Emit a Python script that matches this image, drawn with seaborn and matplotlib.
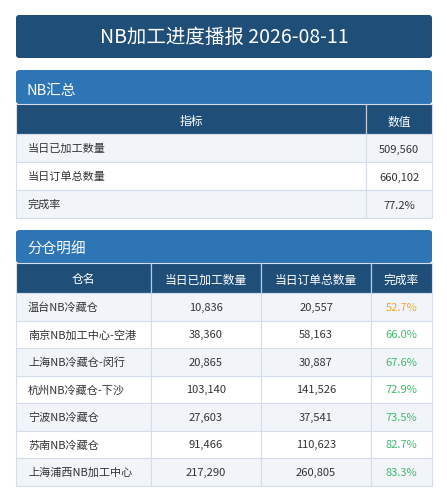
import matplotlib
matplotlib.use("Agg")
import matplotlib.pyplot as plt
from matplotlib.patches import Rectangle, FancyBboxPatch
import seaborn as sns

sns.set_style("white")
plt.rcParams['font.family'] = ['Noto Sans CJK SC', 'DejaVu Sans']

title = "NB加工进度播报 2026-08-11"

summary_labels = ["当日已加工数量", "当日订单总数量", "完成率"]
summary_values = ["509,560", "660,102", "77.2%"]

wh_names = ["温台NB冷藏仓", "南京NB加工中心-空港", "上海NB冷藏仓-闵行", "杭州NB冷藏仓-下沙",
            "宁波NB冷藏仓", "苏南NB冷藏仓", "上海浦西NB加工中心"]
wh_done = [10836, 38360, 20865, 103140, 27603, 91466, 217290]
wh_total = [20557, 58163, 30887, 141526, 37541, 110623, 260805]
wh_rate = [52.7, 66.0, 67.6, 72.9, 73.5, 82.7, 83.3]

DARK = "#1f4e79"
MID = "#2e75b6"
ALT = "#f1f5fa"
LINE = "#d5dee8"
TXT = "#333333"

fig = plt.figure(figsize=(4.47, 5.0), dpi=100)
ax = fig.add_axes([0, 0, 1, 1])
ax.set_xlim(0, 447)
ax.set_ylim(500, 0)
ax.axis("off")

L, R = 16, 432


def rbox(x0, y0, x1, y1, color):
    ax.add_patch(FancyBboxPatch((x0, y0), x1 - x0, y1 - y0,
                                boxstyle="round,pad=0,rounding_size=3",
                                fc=color, ec="none"))


def cell(x0, y0, x1, y1, color):
    ax.add_patch(Rectangle((x0, y0), x1 - x0, y1 - y0, fc=color, ec=LINE, lw=0.8))


# title
rbox(L, 15, R, 58, DARK)
ax.text((L + R) / 2, 37, title, color="white", fontsize=14, ha="center", va="center")

# summary section
rbox(L, 70, R, 104, MID)
ax.text(27, 91, "NB汇总", color="white", fontsize=10.5, ha="left", va="center")
cols1 = [L, 366, R]
cell(cols1[0], 104, cols1[1], 134, DARK)
cell(cols1[1], 104, cols1[2], 134, DARK)
ax.plot([366, 366], [104, 134], color="#c0cbd8", lw=0.8)
ax.text((cols1[0] + cols1[1]) / 2, 122, "指标", color="white", fontsize=8.5, ha="center", va="center")
ax.text((cols1[1] + cols1[2]) / 2, 122, "数值", color="white", fontsize=8.5, ha="center", va="center")
y = 134
for i, (lab, val) in enumerate(zip(summary_labels, summary_values)):
    h = 28 if i < 2 else 82 / 3 + 0.3
    bg = ALT if i % 2 == 0 else "white"
    cell(cols1[0], y, cols1[1], y + h, bg)
    cell(cols1[1], y, cols1[2], y + h, bg)
    ax.text(28, y + h / 2 + 1, lab, color=TXT, fontsize=8, ha="left", va="center")
    ax.text((cols1[1] + cols1[2]) / 2, y + h / 2 + 2, val, color=TXT, fontsize=8, ha="center", va="center")
    y += h

# detail section
rbox(L, 230, R, 263, MID)
ax.text(27, 250, "分仓明细", color="white", fontsize=10.5, ha="left", va="center")
cols2 = [L, 151, 261, 371, R]
heads = ["仓名", "当日已加工数量", "当日订单总数量", "完成率"]
for j, hd in enumerate(heads):
    cell(cols2[j], 263, cols2[j + 1], 293, DARK)
    ax.text((cols2[j] + cols2[j + 1]) / 2, 280, hd, color="white", fontsize=8.5, ha="center", va="center")
for j in range(1, 4):
    ax.plot([cols2[j], cols2[j]], [263, 293], color="#c0cbd8", lw=0.8)
rh = 27.5
for i in range(len(wh_names)):
    y0 = 293 + i * rh
    bg = ALT if i % 2 == 0 else "white"
    for j in range(4):
        cell(cols2[j], y0, cols2[j + 1], y0 + rh, bg)
    yc = y0 + rh / 2 + 1
    ax.text(28, yc, wh_names[i], color=TXT, fontsize=8, ha="left", va="center")
    ax.text((cols2[1] + cols2[2]) / 2, yc, f"{wh_done[i]:,}", color=TXT, fontsize=8, ha="center", va="center")
    ax.text((cols2[2] + cols2[3]) / 2, yc, f"{wh_total[i]:,}", color=TXT, fontsize=8, ha="center", va="center")
    rc = "#f5a623" if wh_rate[i] < 60 else "#3dbb6a"
    ax.text((cols2[3] + cols2[4]) / 2, yc, f"{wh_rate[i]:.1f}%", color=rc, fontsize=8, ha="center", va="center")

fig.savefig("out.png", dpi=100)
